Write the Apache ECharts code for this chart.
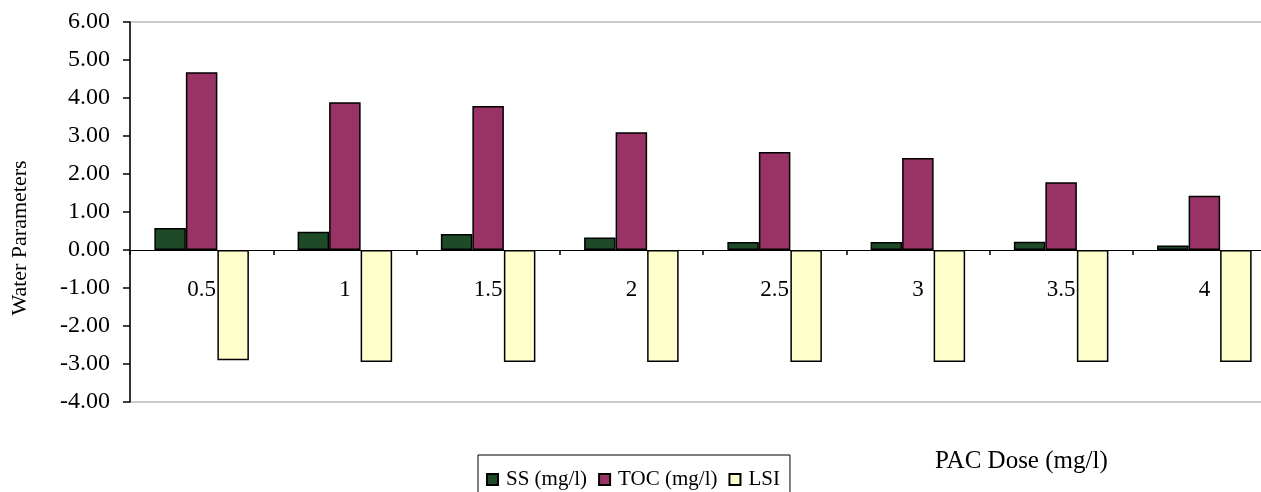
<!DOCTYPE html>
<html>
<head>
<meta charset="utf-8">
<script src="https://cdn.jsdelivr.net/npm/echarts@6/dist/echarts.min.js"></script>
<style>
  html, body { margin: 0; padding: 0; background: #fff; }
  #chart { width: 1261px; height: 492px; }
</style>
</head>
<body>
<div id="chart"></div>
<script>
// PAC dose levels (mg/l)
const doses = ['0.5', '1', '1.5', '2', '2.5', '3', '3.5', '4'];
// Measured water parameters per dose
const ssValues  = [0.58, 0.48, 0.42, 0.33, 0.21, 0.21, 0.22, 0.12];
const tocValues = [4.68, 3.89, 3.79, 3.10, 2.58, 2.42, 1.78, 1.43];
const lsiValues = [-2.90, -2.95, -2.95, -2.95, -2.95, -2.95, -2.95, -2.95];
const seriesNames = ['SS (mg/l)', 'TOC (mg/l)', 'LSI'];

const serif = '"Liberation Serif", "DejaVu Serif", serif';
const chart = echarts.init(document.getElementById('chart'), null, { renderer: 'canvas' });

function barSeries(name, data, color) {
  return {
    name: name,
    type: 'bar',
    data: data,
    barGap: '0%',
    barCategoryGap: '34%',
    itemStyle: { color: color, borderColor: '#000', borderWidth: 1.5 }
  };
}

chart.setOption({
  animation: false,
  textStyle: { fontFamily: serif },
  // plot area runs past the right edge of the canvas
  grid: {
    left: 130, width: 1146, top: 22, height: 380,
    outerBoundsMode: 'none',
    containLabel: false,
    show: true, borderColor: '#999', borderWidth: 1, backgroundColor: 'transparent'
  },
  xAxis: {
    type: 'category',
    data: doses,
    axisLine: { onZero: true, lineStyle: { color: '#000', width: 1.2 } },
    axisTick: { show: true, length: 5, lineStyle: { color: '#000', width: 1.5 } },
    // category labels sit just under the zero line
    axisLabel: { color: '#000', fontSize: 23, fontFamily: serif, margin: -124 },
    splitLine: { show: false }
  },
  yAxis: {
    type: 'value',
    min: -4, max: 6, interval: 1,
    axisLine: { show: true, lineStyle: { color: '#000', width: 1.5 } },
    axisTick: { show: true, length: 7, lineStyle: { color: '#000', width: 1.5 } },
    axisLabel: {
      color: '#000', fontSize: 24, fontFamily: serif, margin: 20,
      formatter: v => v.toFixed(2)
    },
    splitLine: { show: false }
  },
  legend: {
    data: seriesNames,
    left: 478, top: 455,
    padding: [14, 10, 14, 8],
    borderColor: '#000', borderWidth: 1,
    itemWidth: 11, itemHeight: 11, itemGap: 11,
    icon: 'rect',
    textStyle: { color: '#000', fontSize: 21, fontFamily: serif, padding: [2, 0, 0, 3] }
  },
  graphic: [
    {
      // value-axis title, rotated
      type: 'text',
      x: 20, y: 238,
      rotation: Math.PI / 2,
      style: {
        text: 'Water Parameters', fill: '#000', font: '22px ' + serif,
        align: 'center', verticalAlign: 'middle'
      }
    },
    {
      type: 'text',
      left: 935, top: 449,
      style: { text: 'PAC Dose (mg/l)', fill: '#000', font: '25px ' + serif }
    }
  ],
  series: [
    barSeries(seriesNames[0], ssValues, '#1f4a27'),
    barSeries(seriesNames[1], tocValues, '#993366'),
    barSeries(seriesNames[2], lsiValues, '#ffffcc')
  ]
});
</script>
</body>
</html>
